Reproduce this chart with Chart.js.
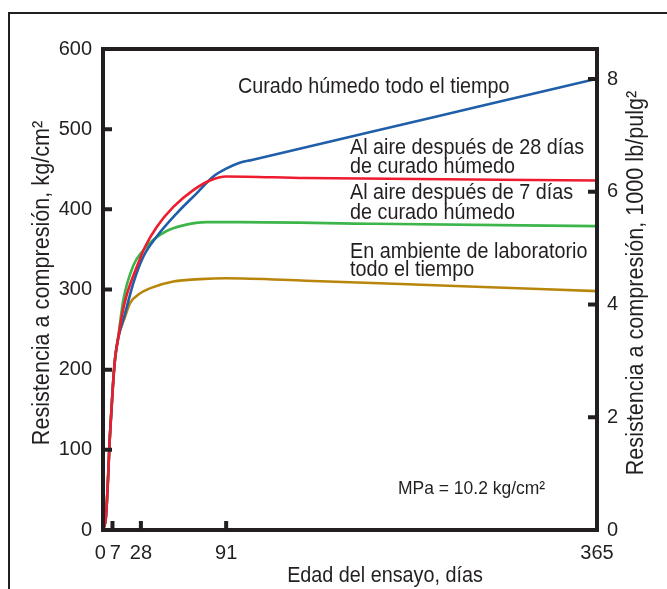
<!DOCTYPE html>
<html><head><meta charset="utf-8">
<script src="https://cdn.jsdelivr.net/npm/chart.js@4.4.1/dist/chart.umd.min.js"></script>
<style>html,body{margin:0;padding:0;background:#fff;}#wrap{width:667px;height:589px;position:relative;}</style>
</head><body><div id="wrap"><canvas id="c" width="667" height="589"></canvas></div>
<script>
// ---- data ----
const xTickDays = [0, 7, 28, 91, 365];
const yTicksKg = [0, 100, 200, 300, 400, 500, 600];
const yTicksPsi = [0, 2, 4, 6, 8];
const KG_PER_KSI = 70.31; // 1000 lb/pulg2 in kg/cm2

const humedoDays = [0, 2.2, 3.9, 4.7, 6.4, 7.6, 9, 11.3, 16.3, 22.4, 29.8, 39.7, 54.5, 69.2, 81.5, 91.4, 101, 110, 200, 280, 365];
const humedoVals = [0, 17, 71, 104, 154, 187, 215, 240, 270, 308, 341, 366, 395, 420, 441, 451, 458, 461.6, 497.4, 529.2, 563];

const aire28Days = [0, 2.2, 3.9, 4.7, 6.4, 7.6, 9, 11.3, 14, 17.5, 24.9, 31, 39.7, 52, 66.7, 79, 91, 150, 365];
const aire28Vals = [0, 17, 71, 104, 154, 187, 215, 240, 268, 293, 328, 353, 378, 403, 424, 436, 441, 439, 436];

const aire7Days = [0, 2.2, 3.9, 4.7, 6.4, 7.6, 9, 11.3, 15, 22.4, 29.8, 37.2, 47, 59.3, 76.6, 101, 200, 365];
const aire7Vals = [0, 17, 71, 104, 154, 187, 215, 242, 287, 330, 349, 362, 373, 380, 384, 384, 382, 379];

const labDays = [0, 2.2, 3.9, 4.7, 6.4, 7.6, 9, 11.3, 16.3, 20, 27.3, 37.2, 52, 71.7, 91, 150, 250, 365];
const labVals = [0, 17, 71, 104, 154, 187, 215, 240, 266, 283, 295, 303, 310, 313, 314, 311, 305, 298];

const seriesNames = ['Curado húmedo todo el tiempo', 'Al aire después de 28 días de curado húmedo', 'Al aire después de 7 días de curado húmedo', 'En ambiente de laboratorio todo el tiempo'];
const annotationLines = [
  'Curado húmedo todo el tiempo',
  'Al aire después de 28 días', 'de curado húmedo',
  'Al aire después de 7 días', 'de curado húmedo',
  'En ambiente de laboratorio', 'todo el tiempo'
];
const noteText = 'MPa = 10.2 kg/cm²';
const yTitleLeft = 'Resistencia a compresión, kg/cm²';
const yTitleRight = 'Resistencia a compresión, 1000 lb/pulg²';
const xTitle = 'Edad del ensayo, días';

// ---- chart ----
const INK = '#231f20';
const FONT = '"Liberation Sans", Arial, sans-serif';
const COND = 0.92; // slight horizontal condensing of the free text
const pts = (d, v) => d.map((x, i) => ({x: x, y: v[i]}));

function condText(ctx, text, x, y) {
  ctx.save();
  ctx.translate(x, y);
  ctx.scale(COND, 1);
  ctx.fillText(text, 0, 0);
  ctx.restore();
}

const decorPlugin = {
  id: 'decor',
  afterDatasetsDraw(chart) {
    const ctx = chart.ctx, a = chart.chartArea;
    const sx = chart.scales.x, sy = chart.scales.y, sy2 = chart.scales.y2;
    ctx.save();
    ctx.strokeStyle = INK;
    ctx.lineWidth = 4;
    ctx.lineJoin = 'miter';
    ctx.strokeRect(a.left, a.top, a.right - a.left, a.bottom - a.top);
    const tl = 9;
    ctx.beginPath();
    yTicksKg.forEach(v => { if (v > 0 && v < 600) { const y = sy.getPixelForValue(v); ctx.moveTo(a.left, y); ctx.lineTo(a.left + tl, y); } });
    yTicksPsi.forEach(v => { if (v > 0) { const y = sy2.getPixelForValue(v); ctx.moveTo(a.right, y); ctx.lineTo(a.right - tl, y); } });
    xTickDays.forEach(v => { if (v > 0 && v < 365) { const x = sx.getPixelForValue(v); ctx.moveTo(x, a.bottom); ctx.lineTo(x, a.bottom - tl); } });
    ctx.stroke();
    // outer frame
    ctx.lineWidth = 2;
    ctx.beginPath();
    ctx.moveTo(9, 589); ctx.lineTo(9, 13); ctx.lineTo(667, 13);
    ctx.stroke();
    ctx.restore();
  },
  afterDraw(chart) {
    const ctx = chart.ctx;
    ctx.save();
    ctx.fillStyle = INK;
    ctx.textBaseline = 'middle';
    ctx.textAlign = 'left';
    ctx.font = '21.5px ' + FONT;
    const pos = [[238, 87], [350, 148], [350, 167], [350, 193], [350, 213], [350, 252], [350, 270]];
    annotationLines.forEach((t, i) => condText(ctx, t, pos[i][0], pos[i][1]));
    ctx.font = '19px ' + FONT;
    condText(ctx, noteText, 398, 489);
    // axis titles
    ctx.textAlign = 'center';
    ctx.font = '21.5px ' + FONT;
    condText(ctx, xTitle, 385, 576);
    ctx.font = '23.5px ' + FONT;
    ctx.save(); ctx.translate(43, 283); ctx.rotate(-Math.PI / 2); condText(ctx, yTitleLeft, 0, 0); ctx.restore();
    ctx.save(); ctx.translate(637, 283); ctx.rotate(-Math.PI / 2); condText(ctx, yTitleRight, 0, 0); ctx.restore();
    ctx.restore();
  }
};

const tickFont = {family: FONT, size: 20};
const noGrid = {display: false, drawTicks: false, drawOnChartArea: false};
new Chart(document.getElementById('c'), {
  type: 'line',
  data: {
    datasets: [
      {label: seriesNames[0], data: pts(humedoDays, humedoVals), borderColor: '#1f5ea8', order: 1},
      {label: seriesNames[1], data: pts(aire28Days, aire28Vals), borderColor: '#ee1c2e', order: 0},
      {label: seriesNames[2], data: pts(aire7Days, aire7Vals), borderColor: '#3cb54a', order: 2},
      {label: seriesNames[3], data: pts(labDays, labVals), borderColor: '#b8860b', order: 3}
    ]
  },
  options: {
    responsive: false,
    animation: false,
    events: [],
    layout: {padding: {top: 49, left: 0, right: 0, bottom: 0}},
    elements: {
      line: {borderWidth: 2.6, cubicInterpolationMode: 'monotone', fill: false},
      point: {radius: 0}
    },
    plugins: {legend: {display: false}, tooltip: {enabled: false}},
    scales: {
      x: {
        type: 'linear', min: 0, max: 365,
        afterBuildTicks: s => { s.ticks = xTickDays.map(v => ({value: v})); },
        afterFit: s => { s.height = 59; },
        grid: noGrid, border: {display: false},
        ticks: {
          autoSkip: false, maxRotation: 0, font: tickFont, color: INK, padding: 11,
          callback: v => (v === 0 ? '0 ' : v === 7 ? ' 7' : String(v))
        }
      },
      y: {
        type: 'linear', position: 'left', min: 0, max: 600,
        afterBuildTicks: s => { s.ticks = yTicksKg.map(v => ({value: v})); },
        afterFit: s => { s.width = 103; },
        grid: noGrid, border: {display: false},
        ticks: {font: tickFont, color: INK, padding: 11}
      },
      y2: {
        type: 'linear', position: 'right', min: 0, max: 600 / KG_PER_KSI,
        afterBuildTicks: s => { s.ticks = yTicksPsi.map(v => ({value: v})); },
        afterFit: s => { s.width = 70; },
        grid: noGrid, border: {display: false},
        ticks: {font: tickFont, color: INK, padding: 10}
      }
    }
  },
  plugins: [decorPlugin]
});
</script>
</body></html>
